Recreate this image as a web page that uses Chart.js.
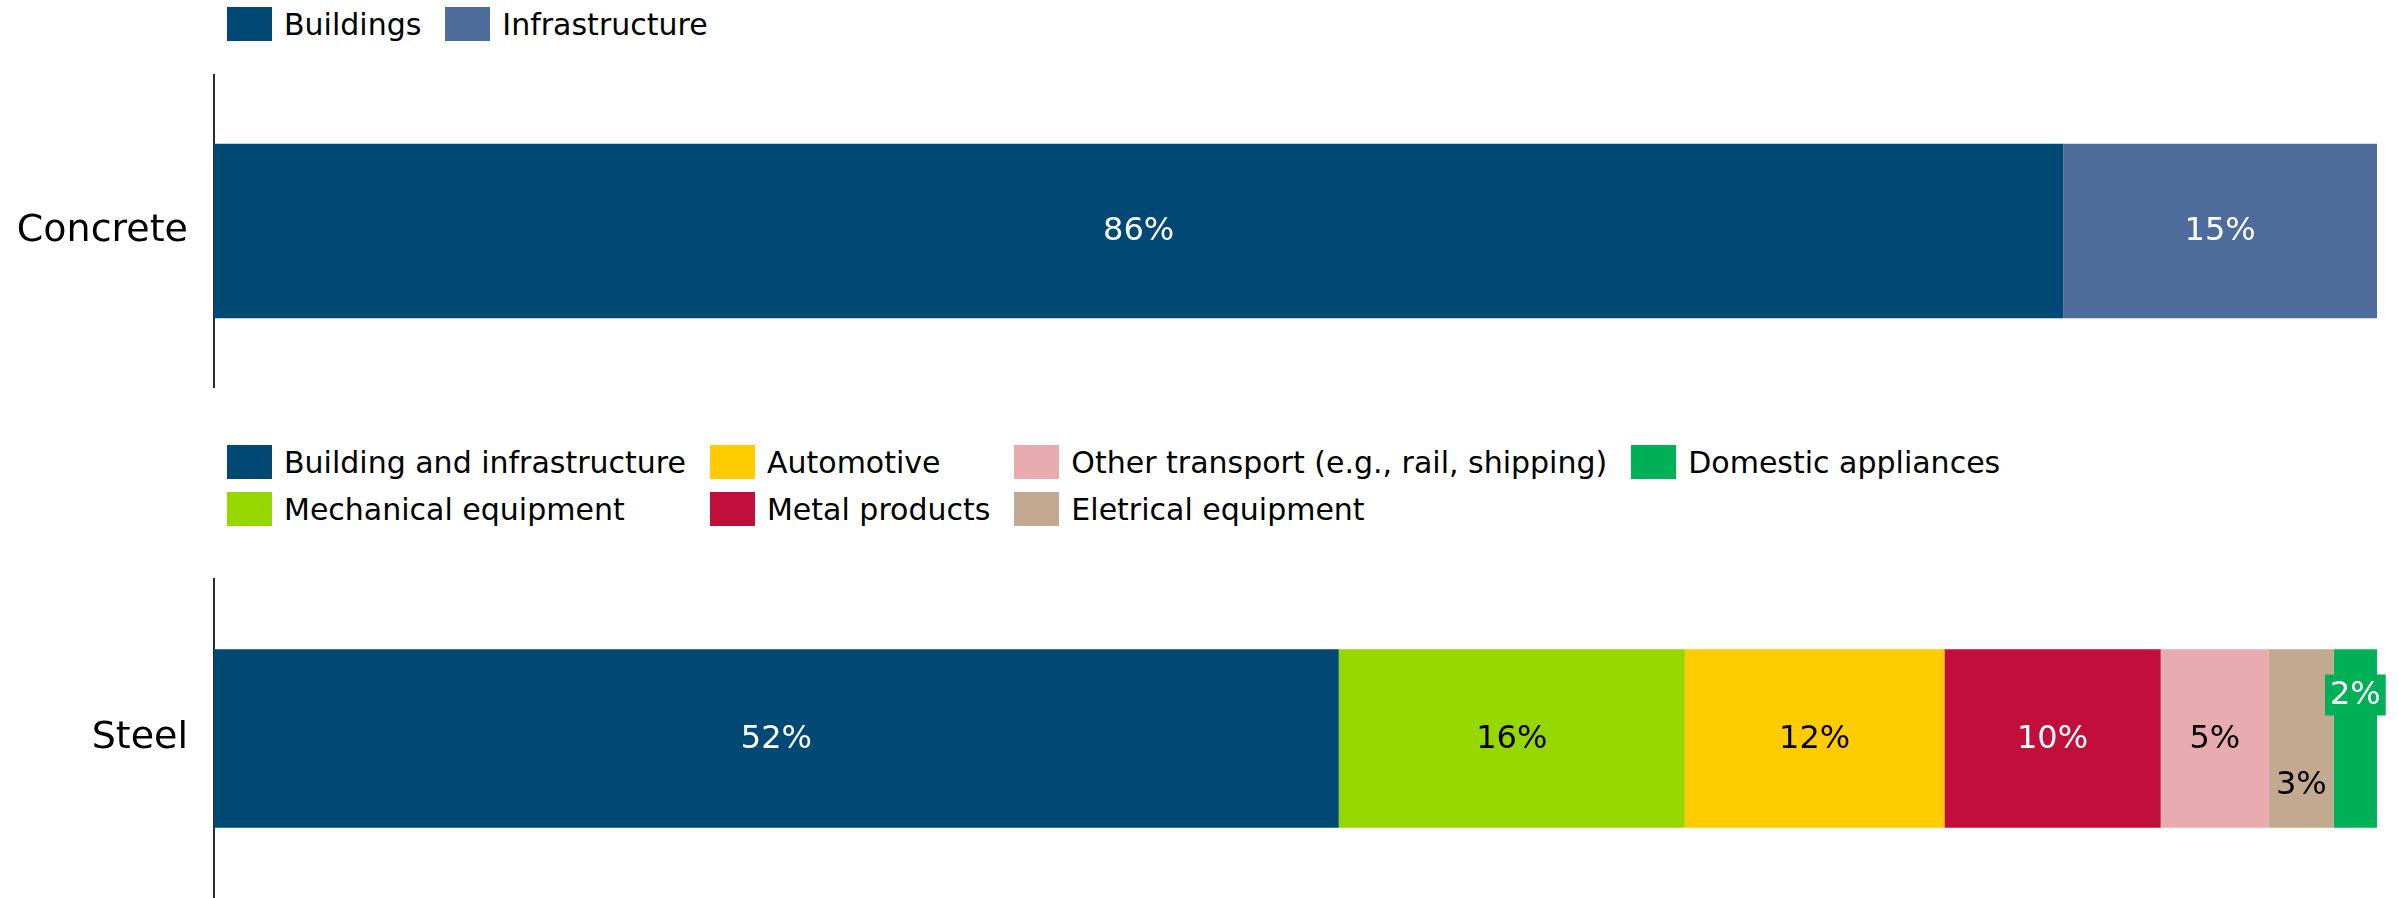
<!DOCTYPE html>
<html>
<head>
<meta charset="utf-8">
<script src="https://cdn.jsdelivr.net/npm/chart.js@4"></script>
<style>
    body { margin: 0; background: #fff; width: 2399px; height: 898px; overflow: hidden; position: relative; font-family: 'DejaVu Sans', sans-serif; }
    .box { position: absolute; left: 0; width: 2399px; }
    .legend { position: absolute; left: 227px; display: grid; grid-auto-flow: column; column-gap: 24px; row-gap: 13px; }
    .legend .item { display: flex; align-items: center; height: 34px; font-size: 30px; color: #000; white-space: nowrap; }
    .legend .swatch { width: 45px; height: 34px; margin-right: 12px; flex: none; }
</style>
</head>
<body>
<div id="concreteLegend" class="legend" style="top: 7px; grid-template-rows: 34px;"></div>
<div class="box" style="top: 0; height: 400px;"><canvas id="concreteChart"></canvas></div>
<div id="steelLegend" class="legend" style="top: 445px; grid-template-rows: 34px 34px;"></div>
<div class="box" style="top: 560px; height: 338px;"><canvas id="steelChart"></canvas></div>

<script>
// Concrete: end use split
const concreteCategories = ['Concrete'];
const concreteSeries = ['Buildings', 'Infrastructure'];
const concreteValues = [85.5, 14.5];
const concreteColors = ['#014975', '#4d6c9b'];
const concreteLabelColors = ['#fff', '#fff'];

// Steel: end use split
const steelCategories = ['Steel'];
const steelSeries = [
    'Building and infrastructure',
    'Mechanical equipment',
    'Automotive',
    'Metal products',
    'Other transport (e.g., rail, shipping)',
    'Eletrical equipment',
    'Domestic appliances'
];
const steelValues = [52, 16, 12, 10, 5, 3, 2];
const steelColors = ['#014975', '#97d700', '#ffcc00', '#c20e3a', '#e8acb0', '#c4a991', '#00b057'];
const steelLabelColors = ['#fff', '#000', '#000', '#fff', '#000', '#000', '#fff'];

const FONT = "'DejaVu Sans', sans-serif";

// draws the % value inside each segment
const valueLabels = {
    id: 'valueLabels',
    afterDatasetsDraw(chart) {
        const ctx = chart.ctx;
        ctx.save();
        ctx.font = '32px ' + FONT;
        ctx.textAlign = 'center';
        ctx.textBaseline = 'middle';
        chart.data.datasets.forEach((ds, i) => {
            const meta = chart.getDatasetMeta(i);
            meta.data.forEach((bar, j) => {
                const text = Math.round(ds.data[j]) + '%';
                const x = (bar.x + bar.base) / 2;
                const y = bar.y + (ds.labelShift || 0);
                if (ds.labelBg) {
                    const w = ctx.measureText(text).width + 10;
                    ctx.fillStyle = ds.labelBg;
                    ctx.fillRect(x - w / 2, y - 20, w, 41);
                }
                ctx.fillStyle = ds.labelColor;
                ctx.fillText(text, x, y + 1);
            });
        });
        ctx.restore();
    }
};

function makeDatasets(series, values, colors, labelColors) {
    return series.map((name, i) => ({
        label: name,
        data: [values[i]],
        backgroundColor: colors[i],
        borderWidth: 0,
        categoryPercentage: 1,
        barPercentage: 0.56,
        labelColor: labelColors[i]
    }));
}

function makeChart(canvasId, categories, datasets, padding) {
    return new Chart(document.getElementById(canvasId), {
        type: 'bar',
        data: { labels: categories, datasets: datasets },
        options: {
            indexAxis: 'y',
            responsive: true,
            maintainAspectRatio: false,
            animation: false,
            layout: { padding: padding },
            plugins: { legend: { display: false }, tooltip: { enabled: false } },
            scales: {
                x: { stacked: true, min: 0, max: 100, display: false },
                y: {
                    stacked: true,
                    z: 1,
                    afterFit: (scale) => {
                        scale.width = 214;
                        // keep the label from eating into the plot height
                        scale.paddingTop = 0;
                        scale.paddingBottom = 0;
                    },
                    grid: { display: false, drawTicks: false },
                    border: { display: true, color: '#2b2b2b', width: 2 },
                    ticks: { color: '#000', padding: 26, font: { family: FONT, size: 38 } }
                }
            }
        },
        plugins: [valueLabels]
    });
}

// html legend laid out in columns, like the source
function buildLegend(chart, elId) {
    const el = document.getElementById(elId);
    chart.data.datasets.forEach(ds => {
        const item = document.createElement('div');
        item.className = 'item';
        const sw = document.createElement('span');
        sw.className = 'swatch';
        sw.style.background = ds.backgroundColor;
        const txt = document.createElement('span');
        txt.textContent = ds.label;
        item.appendChild(sw);
        item.appendChild(txt);
        el.appendChild(item);
    });
}

const concreteSets = makeDatasets(concreteSeries, concreteValues, concreteColors, concreteLabelColors);
const concreteChart = makeChart('concreteChart', concreteCategories, concreteSets, { top: 75, bottom: 13, right: 22 });
buildLegend(concreteChart, 'concreteLegend');

const steelSets = makeDatasets(steelSeries, steelValues, steelColors, steelLabelColors);
// small segments: 3% sits low, 2% sits high on a green tag
steelSets[5].labelShift = 46;
steelSets[6].labelShift = -44;
steelSets[6].labelBg = '#00b057';
const steelChart = makeChart('steelChart', steelCategories, steelSets, { top: 19, right: 22 });
buildLegend(steelChart, 'steelLegend');
</script>
</body>
</html>
